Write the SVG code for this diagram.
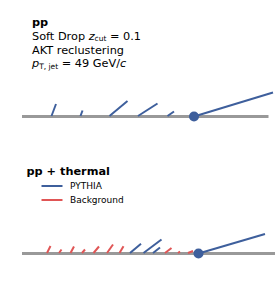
<svg xmlns="http://www.w3.org/2000/svg" width="277" height="281" viewBox="0 0 277 281">
<style>
text{font-family:"DejaVu Sans","Liberation Sans",sans-serif;fill:#000}
.t{font-size:11.3px}
.b{font-weight:bold}
.l{font-size:9px}
.axis{stroke:#999;stroke-width:3}
.bl{stroke:#3e5f9c;stroke-width:2;stroke-linecap:butt;fill:none}
.rd{stroke:#e05555;stroke-width:2;fill:none}
.dot{fill:#3e5f9c}
</style>
<rect width="277" height="281" fill="#fff"/>
<g id="label-pp">
<text class="t b" x="32" y="26">pp</text>
<text class="t" x="32" y="39.6">Soft Drop <tspan font-style="italic">z</tspan><tspan font-size="7.5" dy="1.8">cut</tspan><tspan dy="-1.8"> = 0.1</tspan></text>
<text class="t" x="32" y="53.8">AKT reclustering</text>
<text class="t" x="32" y="67.4"><tspan font-style="italic">p</tspan><tspan font-size="7.5" dy="1.8">T, jet</tspan><tspan dy="-1.8"> = 49 GeV/</tspan><tspan font-style="italic">c</tspan></text>
</g>
<g id="tree-pp">
<line class="axis" x1="22" y1="116.5" x2="268.5" y2="116.5"/>
<g id="connectors-pp">
<line class="bl" x1="51.5" y1="116" x2="56" y2="104"/>
<line class="bl" x1="80.5" y1="116" x2="82.5" y2="110.5"/>
<line class="bl" x1="109.5" y1="116" x2="127.5" y2="101"/>
<line class="bl" x1="138" y1="116" x2="157.5" y2="103.5"/>
<line class="bl" x1="167.5" y1="116" x2="174" y2="111.5"/>
<line class="bl" x1="194" y1="116.5" x2="273" y2="92.5"/>
</g>
<circle id="node-pp" class="dot" cx="194" cy="116.5" r="5"/>
</g>
<g id="label-thermal">
<text class="t b" x="26.5" y="174.5">pp + thermal</text>
<line class="bl" x1="41.5" y1="186" x2="62.5" y2="186"/>
<text class="l" x="70" y="189">PYTHIA</text>
<line class="rd" x1="41.5" y1="200" x2="62.5" y2="200"/>
<text class="l" x="70" y="203.3">Background</text>
</g>
<g id="tree-thermal">
<line class="axis" x1="22" y1="253.5" x2="275" y2="253.5"/>
<g id="connectors-thermal">
<line class="rd" x1="47" y1="253" x2="50.5" y2="246"/>
<line class="rd" x1="59" y1="253" x2="61.5" y2="249.5"/>
<line class="rd" x1="70.5" y1="253" x2="74" y2="246.5"/>
<line class="rd" x1="82" y1="253" x2="85" y2="249.5"/>
<line class="rd" x1="93.5" y1="253" x2="99" y2="246.5"/>
<line class="rd" x1="107" y1="253" x2="113" y2="244.5"/>
<line class="rd" x1="119.5" y1="253" x2="123.5" y2="246.3"/>
<line class="rd" x1="165" y1="253" x2="171.5" y2="248"/>
<line class="rd" x1="178" y1="253" x2="180" y2="251.5"/>
<line class="rd" x1="188" y1="253" x2="193" y2="251"/>
<line class="bl" x1="130" y1="253" x2="141" y2="243.7"/>
<line class="bl" x1="143.5" y1="253" x2="161.5" y2="239.5"/>
<line class="bl" x1="153" y1="253" x2="160" y2="247.5"/>
<line class="bl" x1="198.5" y1="253.5" x2="265" y2="234"/>
</g>
<circle id="node-thermal" class="dot" cx="198.5" cy="253.5" r="5"/>
</g>
</svg>
